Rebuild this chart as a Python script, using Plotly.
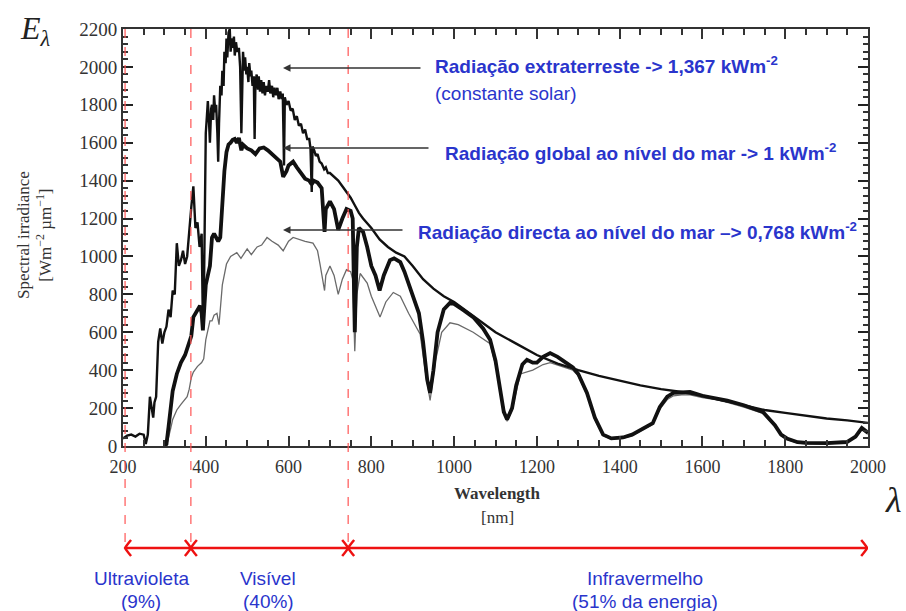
import plotly.graph_objects as go

# ---------------- data ----------------
ext_nm = [200, 210, 220, 230, 240, 250, 255, 260, 265, 270, 273, 276, 280, 285, 290, 295, 300, 305, 310, 315,
          320, 325, 330, 335, 340, 345, 350, 355, 360, 365, 370, 375, 380, 385, 390, 393, 396,
          400, 403, 405, 408, 410, 413, 415, 418, 420, 423, 425, 428, 430, 432, 435, 438, 440, 443, 445, 448,
          450, 452, 455, 458, 460, 463, 466, 468, 470, 473, 476, 480, 483, 486, 488, 490, 493, 495, 498,
          500, 503, 505, 508, 510, 513, 516, 518, 520, 523, 526, 528, 531, 534, 537, 540, 543, 546, 550,
          553, 556, 560, 563, 566, 570, 573, 576, 580, 583, 586, 589, 591, 595, 600, 605, 610, 615, 620,
          625, 630, 635, 640, 645, 650, 653, 656, 658, 662, 666, 670, 675, 680, 686, 690, 695, 700,
          710, 720, 730, 740, 750, 760, 770, 780, 800, 820, 840, 860, 880, 900,
          925, 950, 975, 1000, 1050, 1100, 1150, 1200, 1250, 1300, 1350, 1400, 1450, 1500, 1550, 1600, 1650,
          1700, 1750, 1800, 1850, 1900, 1950, 2000]
ext_val = [40, 55, 60, 50, 65, 60, 10, 60, 260, 200, 150, 230, 260, 550, 620, 540, 600, 630, 720, 680,
           820, 800, 1070, 950, 980, 1030, 960, 1000, 1150, 1260, 1370, 1150, 1180, 1050, 1120, 650, 900,
           1650, 1750, 1820, 1700, 1600, 1780, 1800, 1720, 1850, 1760, 1800, 1650, 1500, 1700, 1900, 1850, 1980, 1900, 2080, 2020,
           2150, 2050, 2180, 2200, 2080, 2150, 2100, 2160, 2060, 2130, 2080, 2100, 2000, 1650, 2000, 2080, 1980, 2050, 1960,
           2000, 1920, 2020, 1950, 1980, 1900, 1950, 1620, 1920, 1960, 1880, 1950, 1870, 1930, 1860, 1920, 1850, 1900, 1870,
           1930, 1860, 1900, 1840, 1890, 1850, 1890, 1830, 1870, 1830, 1860, 1480, 1840, 1800, 1820, 1770, 1780, 1720, 1740,
           1690, 1700, 1650, 1670, 1620, 1620, 1570, 1340, 1580, 1560, 1530, 1540, 1500, 1490, 1460, 1470, 1440, 1440,
           1420, 1400, 1370, 1340, 1310, 1270, 1230, 1200, 1150, 1090, 1050, 1020, 1000, 950,
           880, 830, 790, 760, 680, 600, 540, 480, 435, 400, 370, 345, 320, 300, 285, 265, 240,
           215, 190, 175, 160, 145, 135, 122]

glob_nm = [300, 305, 310, 315, 320, 330, 340, 350, 360, 365, 370, 375, 380, 386, 390, 393, 397, 400, 405, 410,
           415, 420, 425, 430, 435, 440, 445, 450, 455, 460, 465, 470, 475, 480, 486, 490, 500, 510, 520, 530,
           540, 550, 560, 570, 580, 587, 595, 600, 611, 620, 630, 640, 650, 656, 660, 670, 680, 687, 690, 700,
           710, 720, 730, 740, 750, 755, 760, 765, 770, 780, 790, 800, 810, 820, 830, 845, 855, 870, 880, 900,
           915, 925, 935, 942, 950, 960, 975, 990, 1000, 1020, 1046, 1070, 1087, 1100, 1110, 1120, 1128, 1140,
           1150, 1165, 1176, 1190, 1200, 1215, 1232, 1250, 1270, 1287, 1300, 1321, 1340, 1360, 1380, 1408, 1430,
           1466, 1480, 1497, 1515, 1530, 1550, 1570, 1600, 1635, 1660, 1700, 1746, 1775, 1790, 1804, 1830, 1852,
           1900, 1949, 1970, 1985, 2000]
glob_val = [0, 10, 100, 200, 290, 380, 440, 480, 540, 580, 680, 700, 720, 740, 700, 610, 750, 850, 900, 950,
            1100, 1120, 1100, 1080, 1100, 1300, 1450, 1550, 1590, 1600, 1615, 1620, 1600, 1625, 1560, 1590, 1570, 1560, 1540, 1570,
            1575, 1560, 1540, 1520, 1500, 1420, 1450, 1480, 1500, 1470, 1440, 1410, 1400, 1380, 1400, 1390, 1360, 1130, 1250, 1290,
            1250, 1140, 1200, 1250, 1240, 1200, 600, 1050, 1150, 1130, 1050, 950, 900, 820, 900, 980, 990, 970, 920, 800,
            700, 550, 350, 280, 400, 600, 720, 755, 750, 720, 680, 620, 560, 450, 300, 180, 140, 200,
            320, 430, 455, 440, 440, 470, 490, 470, 440, 415, 380, 280, 150, 60, 40, 45, 60,
            100, 120, 206, 260, 280, 285, 285, 265, 253, 240, 215, 180, 110, 60, 40, 20, 16,
            15, 21, 50, 95, 70]

dir_nm = [305, 310, 315, 320, 330, 340, 350, 355, 360, 365, 370, 380, 390, 395, 400, 410, 415, 420, 427, 432,
          440, 450, 460, 475, 485, 500, 510, 524, 535, 548, 560, 575, 587, 600, 611, 625, 640, 659, 670, 676,
          687, 690, 700, 710, 720, 730, 740, 750, 755, 760, 765, 773, 790, 800, 810, 821, 835, 853, 870, 890,
          918, 930, 942, 955, 970, 990, 1010, 1046, 1087, 1100, 1115, 1128, 1140, 1160, 1190, 1215, 1232, 1260,
          1287, 1300, 1321, 1340, 1360, 1380, 1408, 1430, 1466, 1480, 1497, 1515, 1530, 1550, 1570, 1600, 1635,
          1660, 1700, 1746, 1775, 1790, 1804, 1830, 1852, 1900, 1949, 1970, 1985, 2000]
dir_val = [0, 40, 90, 140, 190, 220, 250, 260, 300, 360, 390, 420, 440, 460, 560, 660, 660, 690, 700, 640,
           850, 960, 1000, 1020, 990, 1040, 1010, 1050, 1060, 1100, 1080, 1060, 1030, 1080, 1100, 1090, 1080, 1070, 1030, 960,
           820, 900, 950, 900, 800, 880, 930, 920, 880, 500, 800, 910, 860, 790, 740, 680, 760, 810, 790, 700,
           590, 400, 240, 450, 600, 650, 640, 600, 540, 430, 250, 130, 190, 380, 400, 430, 440, 420,
           400, 370, 270, 140, 55, 35, 40, 55, 95, 115, 195, 245, 265, 270, 270, 255, 243,
           230, 205, 172, 105, 55, 35, 15, 12, 12, 18, 45, 85, 62]

x_ticks = [200, 400, 600, 800, 1000, 1200, 1400, 1600, 1800, 2000]
y_ticks = [0, 200, 400, 600, 800, 1000, 1200, 1400, 1600, 1800, 2000, 2200]

# band limits (nm) and labels
band_edges = [205, 364, 744, 1998]
band_names = ["Ultravioleta", "Visível", "Infravermelho"]
band_shares = ["(9%)", "(40%)", "(51% da energia)"]

# ---------------- geometry helpers ----------------
W, H = 906, 611
L, R, T, B = 123, 38, 29, 165
PW, PH = W - L - R, H - T - B
X0, X1 = 200, 2000


def px_x(x):
    return (x - L) / PW


def px_y(y):
    return (H - B - y) / PH


NM_PER_PX = (X1 - X0) / PW

fig = go.Figure()
fig.add_trace(go.Scatter(x=dir_nm, y=dir_val, mode="lines",
                         line=dict(color="#6a6a6a", width=1.3), showlegend=False))
fig.add_trace(go.Scatter(x=ext_nm, y=ext_val, mode="lines",
                         line=dict(color="#111111", width=2.4), showlegend=False))
fig.add_trace(go.Scatter(x=glob_nm, y=glob_val, mode="lines",
                         line=dict(color="#111111", width=3.8), showlegend=False))

shapes = []
for xe in band_edges[:3]:
    shapes.append(dict(type="line", xref="x", yref="paper", x0=xe, x1=xe,
                       y0=1.0, y1=px_y(548), line=dict(color="#ff5555", width=1.2, dash="dash")))
ya = px_y(548)
dx = 6 * NM_PER_PX
dy = 8 / PH
for a, b in zip(band_edges[:-1], band_edges[1:]):
    shapes.append(dict(type="line", xref="x", yref="paper", x0=a, x1=b, y0=ya, y1=ya,
                       line=dict(color="#ee1111", width=2.5)))
    shapes.append(dict(type="path", xref="x", yref="paper",
                       path=f"M {a + dx},{ya + dy} Q {a + dx * 0.2},{ya + dy * 0.3} {a},{ya} "
                            f"Q {a + dx * 0.2},{ya - dy * 0.3} {a + dx},{ya - dy}",
                       line=dict(color="#ee1111", width=2.5)))
    shapes.append(dict(type="path", xref="x", yref="paper",
                       path=f"M {b - dx},{ya + dy} Q {b - dx * 0.2},{ya + dy * 0.3} {b},{ya} "
                            f"Q {b - dx * 0.2},{ya - dy * 0.3} {b - dx},{ya - dy}",
                       line=dict(color="#ee1111", width=2.5)))

blue = "#2a35cc"
ann = []
for y_px, x_tail in [(68, 422), (148, 430), (230, 404)]:
    ann.append(dict(xref="paper", yref="paper", x=px_x(283), y=px_y(y_px), ax=x_tail - 283, ay=0,
                    text="", showarrow=True, arrowhead=2, arrowsize=1,
                    arrowwidth=1.5, arrowcolor="#333333"))

sans = "Liberation Sans, Arial, sans-serif"
serif = "Liberation Serif, Times New Roman, serif"


def txt(x, y, s, font, anchor="left", angle=0):
    return dict(xref="paper", yref="paper", x=px_x(x), y=px_y(y), xanchor=anchor, yanchor="middle",
                text=s, showarrow=False, font=font, textangle=angle)


ann += [
    txt(433, 65, "<b>Radiação extraterreste -> 1,367 kWm<sup>-2</sup></b>", dict(family=sans, size=19, color=blue)),
    txt(433, 93, "(constante solar)", dict(family=sans, size=19, color=blue)),
    txt(443, 152, "<b>Radiação global ao nível do mar -> 1 kWm<sup>-2</sup></b>", dict(family=sans, size=19, color=blue)),
    txt(416, 231, "<b>Radiação directa ao nível do mar –> 0,768 kWm<sup>-2</sup></b>", dict(family=sans, size=19, color=blue)),
    txt(35, 31, "<i>E<sub>λ</sub></i>", dict(family=serif, size=32, color="#222222"), "center"),
    txt(893, 500, "<i>λ</i>", dict(family=serif, size=36, color="#222222"), "center"),
    txt(34, 235, "Spectral irradiance<br>[Wm<sup>−2</sup> µm<sup>−1</sup>]", dict(family=serif, size=17, color="#333333"),
        "center", -90),
    txt(497, 493, "<b>Wavelength</b>", dict(family=serif, size=17, color="#333333"), "center"),
    txt(497, 517, "[nm]", dict(family=serif, size=17, color="#333333"), "center"),
]
label_x = [141, 268, 645]
for lx, n, s in zip(label_x, band_names, band_shares):
    ann.append(txt(lx, 578, n, dict(family=sans, size=19, color=blue), "center"))
    ann.append(txt(lx, 601, s, dict(family=sans, size=19, color=blue), "center"))

fig.update_layout(
    width=W, height=H, margin=dict(l=L, r=R, t=T, b=B),
    paper_bgcolor="white", plot_bgcolor="white",
    shapes=shapes, annotations=ann, showlegend=False,
    xaxis=dict(range=[X0, X1], tickvals=x_ticks, ticks="inside", ticklen=10, tickwidth=1.5,
               tickcolor="#333333", showline=True, linecolor="#333333", linewidth=2, mirror="ticks",
               showgrid=False, zeroline=False, ticklabelstandoff=3,
               tickfont=dict(family=serif, size=18, color="#333333"),
               minor=dict(dtick=50, ticks="inside", ticklen=6, tickcolor="#333333", showgrid=False)),
    yaxis=dict(range=[0, 2200], tickvals=y_ticks, ticks="inside", ticklen=10, tickwidth=2,
               tickcolor="#222222", showline=True, linecolor="#333333", linewidth=2, mirror="ticks",
               showgrid=False, zeroline=False,
               tickfont=dict(family=serif, size=19, color="#333333"),
               minor=dict(dtick=40, ticks="inside", ticklen=5, tickcolor="#333333", showgrid=False)),
)

fig.write_html("out.html", config={"displayModeBar": False},
               post_script="document.body.style.margin='0';document.body.style.padding='0';")
